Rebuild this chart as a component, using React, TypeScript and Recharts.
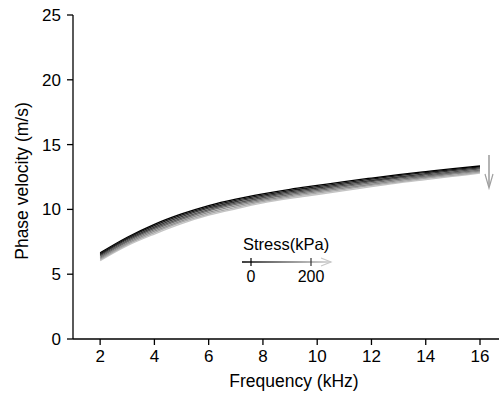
import React from 'react';
import { LineChart, Line, XAxis, YAxis } from 'recharts';

// Frequency samples (kHz)
const frequencies = [2, 3, 4, 5, 6, 7, 8, 9, 10, 11, 12, 13, 14, 15, 16];

// Phase velocity (m/s) for increasing stress, 0 kPa -> 200 kPa
const stress0 = [6.65, 7.85, 8.85, 9.65, 10.3, 10.8, 11.2, 11.55, 11.85, 12.15, 12.42, 12.68, 12.92, 13.15, 13.35];
const stress1 = [6.57, 7.77, 8.75, 9.55, 10.2, 10.7, 11.1, 11.45, 11.75, 12.05, 12.33, 12.6, 12.84, 13.07, 13.28];
const stress2 = [6.49, 7.68, 8.64, 9.44, 10.09, 10.59, 11.0, 11.35, 11.65, 11.95, 12.23, 12.5, 12.75, 12.99, 13.2];
const stress3 = [6.4, 7.58, 8.53, 9.33, 9.98, 10.48, 10.9, 11.25, 11.55, 11.85, 12.14, 12.41, 12.66, 12.9, 13.12];
const stress4 = [6.31, 7.49, 8.43, 9.23, 9.88, 10.38, 10.8, 11.15, 11.45, 11.75, 12.04, 12.32, 12.57, 12.81, 13.03];
const stress5 = [6.22, 7.39, 8.32, 9.12, 9.77, 10.27, 10.7, 11.05, 11.35, 11.65, 11.94, 12.22, 12.48, 12.72, 12.95];
const stress6 = [6.13, 7.3, 8.21, 9.01, 9.66, 10.16, 10.6, 10.95, 11.25, 11.55, 11.85, 12.13, 12.39, 12.63, 12.87];
const stress7 = [6.05, 7.2, 8.1, 8.9, 9.55, 10.05, 10.5, 10.85, 11.15, 11.45, 11.75, 12.05, 12.3, 12.55, 12.8];

const seriesValues = [stress0, stress1, stress2, stress3, stress4, stress5, stress6, stress7];
const seriesColors = ['#000000', '#1c1c1c', '#383838', '#555555', '#717171', '#8d8d8d', '#a9a9a9', '#c4c4c4'];

const xTicks = [2, 4, 6, 8, 10, 12, 14, 16];
const yTicks = [0, 5, 10, 15, 20, 25];

const rows = frequencies.map((f, i) => {
  const row: Record<string, number> = { f };
  seriesValues.forEach((s, k) => {
    row[`s${k}`] = s[i];
  });
  return row;
});

const FONT = '"Liberation Sans", Arial, sans-serif';
const tickStyle = { fontSize: 17, fill: '#000', fontFamily: FONT };

export default function App() {
  return (
    <div
      style={{
        position: 'absolute',
        left: 0,
        top: 0,
        width: 499,
        height: 393,
        overflow: 'hidden',
        background: '#fff',
      }}
    >
      <LineChart
        width={499}
        height={393}
        data={rows}
        margin={{ top: 15, right: 0, bottom: 0, left: 0 }}
      >
        <XAxis
          type="number"
          dataKey="f"
          domain={[1, 16.7]}
          ticks={xTicks}
          allowDataOverflow
          height={54}
          stroke="#000"
          tickSize={6}
          tickMargin={5}
          tick={tickStyle}
          axisLine={{ stroke: '#000', strokeWidth: 1.3 }}
          tickLine={{ stroke: '#000', strokeWidth: 1.3 }}
        />
        <YAxis
          type="number"
          domain={[0, 25]}
          ticks={yTicks}
          width={73}
          stroke="#000"
          tickSize={6}
          tickMargin={6}
          tick={tickStyle}
          axisLine={{ stroke: '#000', strokeWidth: 1.3 }}
          tickLine={{ stroke: '#000', strokeWidth: 1.3 }}
        />
        {seriesValues
          .map((_, k) => k)
          .reverse()
          .map((k) => (
            <Line
              key={k}
              type="monotone"
              dataKey={`s${k}`}
              stroke={seriesColors[k]}
              strokeWidth={1.3}
              dot={false}
              isAnimationActive={false}
            />
          ))}
      </LineChart>
      <svg
        width={499}
        height={393}
        style={{ position: 'absolute', left: 0, top: 0, pointerEvents: 'none' }}
        fontFamily={FONT}
      >
        <defs>
          <linearGradient id="stressGrad" gradientUnits="userSpaceOnUse" x1={242} x2={331} y1={0} y2={0}>
            <stop offset="0%" stopColor="#000" />
            <stop offset="100%" stopColor="#d0d0d0" />
          </linearGradient>
        </defs>
        {/* axis titles */}
        <text x={294} y={387} fontSize={17.5} textAnchor="middle" fill="#000">
          Frequency (kHz)
        </text>
        <text
          x={0}
          y={0}
          fontSize={17.5}
          textAnchor="middle"
          fill="#000"
          transform="translate(28 181) rotate(-90)"
        >
          Phase velocity (m/s)
        </text>
        {/* direction of increasing stress */}
        <line x1={489} y1={155} x2={489} y2={187} stroke="#808080" strokeWidth={1.2} />
        <polyline points="485,174 489,188 493,174" fill="none" stroke="#a0a0a0" strokeWidth={1.2} />
        {/* stress colour key */}
        <text x={243} y={250} fontSize={16.5} fill="#000">
          Stress(kPa)
        </text>
        <line x1={242} y1={262} x2={331} y2={262} stroke="url(#stressGrad)" strokeWidth={1.3} />
        <polyline points="321,258 331,262 321,266" fill="none" stroke="#c8c8c8" strokeWidth={1.2} />
        <line x1={251} y1={258} x2={251} y2={266} stroke="#000" strokeWidth={1.2} />
        <line x1={311} y1={258} x2={311} y2={266} stroke="#333" strokeWidth={1.2} />
        <text x={251} y={282} fontSize={16} textAnchor="middle" fill="#000">
          0
        </text>
        <text x={311} y={282} fontSize={16} textAnchor="middle" fill="#000">
          200
        </text>
      </svg>
    </div>
  );
}
